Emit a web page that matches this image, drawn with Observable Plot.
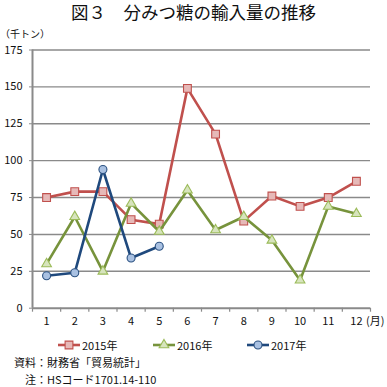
<!DOCTYPE html>
<html><head><meta charset="utf-8">
<script src="https://cdn.jsdelivr.net/npm/d3@7"></script>
<script src="https://cdn.jsdelivr.net/npm/@observablehq/plot@0.6"></script>
<style>
body{margin:0;background:#fff;font-family:"Noto Sans CJK JP","Noto Sans",sans-serif;color:#111;}
#wrap{position:relative;width:387px;height:387px;overflow:hidden;}
.abs{position:absolute;white-space:nowrap;line-height:1;}
#chart{position:absolute;left:0;top:0;}
.leg{position:absolute;top:337px;display:flex;align-items:center;font-size:11px;}
.leg svg{margin-right:2px;}
</style></head>
<body>
<div id="wrap">
  <div id="chart"></div>
  <div class="abs" id="title" style="left:0;width:387px;text-align:center;top:3px;font-size:17.5px;">図３　分みつ糖の輸入量の推移</div>
  <div class="abs" style="left:0;top:29px;font-size:10px;">（千トン）</div>
  <div class="abs" style="left:366px;top:315px;font-size:11px;">(月)</div>
  <div id="legend"></div>
  <div class="abs" style="left:14px;top:357px;font-size:11px;">資料：財務省「貿易統計」</div>
  <div class="abs" style="left:25px;top:374px;font-size:11px;">注：HSコード1701.14-110</div>
</div>
<script>
const months = [1,2,3,4,5,6,7,8,9,10,11,12];
const v2015 = [75, 79, 79, 60, 57, 149, 118, 59, 76, 69, 75, 86];
const v2016 = [30, 62, 25, 71, 52, 80, 53, 62, 46, 19, 69, 64];
const v2017 = [22, 24, 94, 34, 42];
const yTicks = [0, 25, 50, 75, 100, 125, 150, 175];
const seriesNames = ["2015年", "2016年", "2017年"];

const series = [
  {name: seriesNames[0], values: v2015, line: "#c0504d", fill: "#e6b9b8", stroke: "#c0504d", symbol: "square", r: 4.4},
  {name: seriesNames[1], values: v2016, line: "#77933c", fill: "#d7e4bd", stroke: "#9bbb59", symbol: "triangle", r: 3.6},
  {name: seriesNames[2], values: v2017, line: "#1f497d", fill: "#a9c1e2", stroke: "#2c5282", symbol: "circle", r: 4}
];
const rows = s => s.values.map((v, i) => ({month: months[i], value: v}));
const bounds = [months[0] - 0.5, ...months.map(m => m + 0.5)];

const marks = [
  Plot.gridY(yTicks.slice(1), {stroke: "#8a8a8a", strokeOpacity: 1, strokeWidth: 1.4}),
  Plot.axisY(yTicks, {tickSize: 3, tickPadding: 7, stroke: "#8a8a8a", fill: "#111", label: null}),
  Plot.axisX(months, {tickSize: 0, tickPadding: 9, fill: "#111", label: null}),
  Plot.axisX(bounds, {tickSize: 4, tickFormat: () => "", stroke: "#8a8a8a", strokeWidth: 1.2, label: null}),
  Plot.ruleY([0], {stroke: "#8a8a8a", strokeWidth: 2}),
  Plot.ruleX([bounds[0]], {stroke: "#8a8a8a", strokeWidth: 2})
];
for (const s of series) {
  marks.push(Plot.line(rows(s), {x: "month", y: "value", stroke: s.line, strokeWidth: 2.6}));
  marks.push(Plot.dot(rows(s), {x: "month", y: "value", symbol: s.symbol, r: s.r, fill: s.fill, stroke: s.stroke, strokeWidth: 1.1}));
}

const chart = Plot.plot({
  width: 387,
  height: 340,
  marginTop: 49.5,
  marginBottom: 32.3,
  marginLeft: 32,
  marginRight: 17,
  style: {fontFamily: "'Noto Sans CJK JP', sans-serif", fontSize: "11px", background: "transparent", color: "#111"},
  x: {type: "linear", domain: [bounds[0], bounds[bounds.length - 1]]},
  y: {type: "linear", domain: [0, 175]},
  marks
});
document.getElementById("chart").appendChild(chart);

// legend
const legendX = [58, 153, 247];
const legend = document.getElementById("legend");
series.forEach((s, i) => {
  const div = document.createElement("div");
  div.className = "leg";
  div.style.left = legendX[i] + "px";
  const sym = d3.symbol(s.symbol === "square" ? d3.symbolSquare : s.symbol === "triangle" ? d3.symbolTriangle : d3.symbolCircle, Math.PI * s.r * s.r)();
  div.innerHTML = `<svg width="22" height="14" viewBox="0 0 22 14">
    <line x1="0" x2="22" y1="7" y2="7" stroke="${s.line}" stroke-width="2.6"/>
    <path d="${sym}" transform="translate(11,7)" fill="${s.fill}" stroke="${s.stroke}" stroke-width="1.1"/>
  </svg><span>${s.name}</span>`;
  legend.appendChild(div);
});
</script>
</body></html>
